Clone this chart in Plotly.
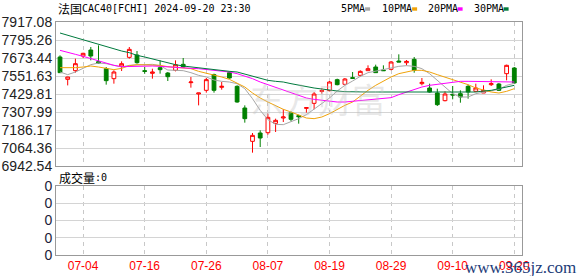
import plotly.graph_objects as go

dates = ["07-01","07-02","07-03","07-04","07-05","07-08","07-09","07-10","07-11","07-12",
         "07-15","07-16","07-17","07-18","07-19","07-22","07-23","07-24","07-25","07-26",
         "07-29","07-30","07-31","08-01","08-02","08-05","08-06","08-07","08-08","08-09",
         "08-12","08-13","08-14","08-15","08-16","08-19","08-20","08-21","08-22","08-23",
         "08-26","08-27","08-28","08-29","08-30","09-02","09-03","09-04","09-05","09-06",
         "09-09","09-10","09-11","09-12","09-13","09-16","09-17","09-18","09-19","09-20"]

opens = [7680.2,7529.0,7587.7,7687.0,7727.6,7648.6,7601.3,7533.6,7619.3,7678.0,
         7693.7,7587.7,7569.7,7608.0,7571.9,7590.0,7630.6,7506.5,7429.8,7454.6,
         7560.6,7474.9,7574.2,7481.7,7335.0,7109.5,7165.8,7168.0,7231.3,7267.4,
         7303.6,7283.2,7332.8,7366.6,7447.8,7452.3,7526.8,7495.2,7540.3,7556.0,
         7587.7,7612.5,7592.3,7596.8,7653.0,7641.5,7664.4,7499.7,7470.4,7436.6,
         7384.7,7427.5,7432.0,7481.7,7447.8,7436.6,7493.0,7497.5,7567.4,7605.8]
highs = [7691.5,7546.0,7668.9,7709.0,7747.9,7759.0,7612.5,7590.0,7650.9,7747.9,
         7720.8,7612.5,7601.0,7657.7,7578.7,7657.7,7673.5,7544.8,7436.6,7538.0,
         7567.4,7511.0,7583.0,7488.5,7353.0,7165.8,7183.9,7296.7,7262.9,7326.0,
         7312.5,7289.9,7337.3,7443.3,7470.4,7517.8,7533.6,7538.0,7578.7,7590.0,
         7623.8,7628.3,7623.8,7653.0,7698.3,7659.9,7680.2,7538.0,7499.7,7465.9,
         7447.8,7483.9,7454.6,7493.0,7499.7,7488.5,7529.0,7504.0,7628.3,7612.5]
lows = [7574.2,7488.0,7574.0,7673.0,7657.7,7637.0,7493.0,7499.7,7585.5,7669.0,
        7635.0,7567.0,7533.6,7567.4,7517.8,7583.0,7608.0,7472.7,7353.0,7438.8,
        7438.8,7459.0,7533.6,7371.0,7235.8,7032.8,7071.0,7154.6,7172.6,7240.3,
        7245.0,7229.0,7303.6,7326.0,7432.0,7447.8,7488.5,7488.5,7535.8,7549.0,
        7587.7,7572.0,7587.7,7590.0,7646.4,7623.8,7574.0,7488.5,7438.8,7348.6,
        7380.0,7393.7,7371.0,7398.2,7443.3,7436.6,7483.9,7450.0,7522.3,7499.7]
closes = [7574.2,7544.8,7635.0,7705.0,7687.0,7639.6,7520.0,7578.7,7635.0,7732.0,
          7641.9,7583.0,7578.7,7594.5,7547.0,7628.0,7612.5,7511.0,7436.6,7526.8,
          7454.6,7481.7,7538.0,7375.7,7262.9,7150.0,7132.0,7271.9,7251.6,7274.1,
          7258.5,7276.4,7337.3,7429.8,7452.3,7511.0,7493.0,7531.3,7535.8,7583.0,
          7601.3,7574.2,7587.7,7646.4,7646.4,7650.5,7590.0,7508.8,7443.3,7357.6,
          7429.8,7423.0,7409.5,7443.3,7470.4,7454.6,7499.7,7454.6,7623.8,7504.3]

ma5 = [7578.7,7560.6,7578.7,7605.8,7628.3,7639.6,7635.1,7623.8,7612.5,7623.8,
       7626.0,7632.8,7630.6,7621.5,7592.2,7590.0,7587.7,7574.2,7556.1,7544.9,
       7524.5,7515.5,7511.0,7499.7,7465.9,7398.2,7319.3,7256.1,7224.5,7222.3,
       7240.3,7262.9,7289.9,7326.1,7364.4,7402.7,7450.1,7488.5,7517.8,7549.4,
       7574.2,7583.2,7596.7,7605.8,7617.0,7621.5,7617.0,7601.3,7567.4,7522.3,
       7477.2,7432.0,7409.5,7409.5,7432.0,7443.3,7450.1,7461.4,7488.5,7502.0]
ma10 = [7608.0,7605.8,7608.0,7612.5,7619.3,7612.5,7601.3,7594.5,7603.5,7621.5,
        7628.3,7628.3,7628.3,7623.8,7614.8,7610.3,7608.0,7601.3,7583.2,7571.9,
        7560.6,7544.9,7529.1,7504.3,7477.2,7436.6,7402.7,7375.7,7348.6,7326.1,
        7308.0,7285.4,7267.4,7262.9,7274.1,7296.7,7326.1,7353.1,7375.7,7416.3,
        7454.6,7488.5,7517.8,7544.9,7567.4,7581.0,7590.0,7590.0,7578.7,7560.6,
        7544.9,7529.1,7511.0,7493.0,7470.4,7454.6,7443.3,7436.6,7447.8,7465.9]
ma20 = [7725.3,7714.0,7698.3,7684.7,7669.0,7650.9,7635.1,7623.8,7614.8,7617.0,
        7619.3,7619.3,7619.3,7617.0,7612.5,7608.0,7605.8,7603.5,7601.3,7596.7,
        7592.2,7587.7,7578.7,7567.4,7551.6,7533.6,7511.0,7493.0,7474.9,7454.6,
        7434.3,7416.3,7402.7,7393.7,7386.9,7380.2,7375.7,7375.7,7380.2,7382.4,
        7389.2,7393.7,7398.2,7405.0,7425.3,7443.3,7459.1,7477.2,7488.5,7495.2,
        7499.7,7511.0,7515.5,7515.5,7515.5,7513.3,7511.0,7511.0,7515.5,7511.0]
ma30 = [7842.6,7826.8,7811.1,7799.8,7781.7,7763.7,7747.9,7736.6,7720.8,7709.5,
        7691.5,7680.2,7666.7,7653.1,7639.6,7628.3,7619.3,7612.5,7608.0,7601.3,
        7596.7,7590.0,7583.2,7578.7,7565.2,7551.6,7538.1,7522.3,7515.5,7511.0,
        7499.7,7488.5,7477.2,7470.4,7463.6,7454.6,7450.1,7445.6,7443.3,7443.3,
        7443.3,7443.3,7443.3,7443.3,7443.3,7443.3,7443.3,7443.3,7443.3,7443.3,
        7443.3,7443.3,7438.8,7438.8,7443.3,7450.1,7454.6,7465.9,7477.2,7488.5]
volume = [0] * 60

price_ticks = [6942.54, 7064.36, 7186.17, 7307.99, 7429.81, 7551.63, 7673.44, 7795.26, 7917.08]
x_ticks = ["07-04", "07-16", "07-26", "08-07", "08-19", "08-29", "09-10", "09-20"]
ma_names = ["5PMA", "10PMA", "20PMA", "30PMA"]
ma_colors = ["#a6a6a6", "#f0a30a", "#ff00ff", "#007a3d"]

W, H = 578, 276
def px(x): return x / W
def py(y): return 1 - y / H

fig = go.Figure()
fig.add_trace(go.Candlestick(
    x=dates, open=opens, high=highs, low=lows, close=closes,
    increasing=dict(line=dict(color="#ff0000", width=1), fillcolor="#ffffff"),
    decreasing=dict(line=dict(color="#008000", width=1), fillcolor="#008000"),
    whiskerwidth=0, showlegend=False, hoverinfo="skip", xaxis="x", yaxis="y"))
for vals, col in zip([ma5, ma10, ma20, ma30], ma_colors):
    fig.add_trace(go.Scatter(x=dates, y=vals, mode="lines", line=dict(color=col, width=1),
                             showlegend=False, hoverinfo="skip", xaxis="x", yaxis="y"))
fig.add_trace(go.Bar(x=dates, y=volume, marker=dict(color="#008000", line=dict(width=0)),
                     showlegend=False, hoverinfo="skip", xaxis="x2", yaxis="y2"))

xdom = [px(56), px(522)]
common_x = dict(type="category", categoryorder="array", categoryarray=dates,
                range=[-0.52, 60.0], tickvals=x_ticks, showgrid=True, gridcolor="#c8c8c8",
                griddash="4px,4px", gridwidth=1, showline=True, linecolor="#999999", linewidth=1,
                mirror=True, zeroline=False, ticks="", automargin=False, fixedrange=True)
fig.update_layout(
    width=W, height=H, margin=dict(l=0, r=0, t=0, b=0),
    paper_bgcolor="white", plot_bgcolor="white", showlegend=False,
    xaxis=dict(domain=xdom, anchor="y", showticklabels=False, rangeslider=dict(visible=False), **common_x),
    yaxis=dict(domain=[py(166), py(22)], range=[price_ticks[0], price_ticks[-1]],
               tickvals=price_ticks, ticktext=[f"{v:.2f}" for v in price_ticks],
               showgrid=True, gridcolor="#d4d4d4", showline=True, linecolor="#999999", mirror=True,
               zeroline=False, ticks="", automargin=False,
               tickfont=dict(family="Liberation Sans, Arial", size=14, color="#222222")),
    xaxis2=dict(domain=xdom, anchor="y2", showticklabels=True,
                tickfont=dict(family="Liberation Sans, Arial", size=12, color="#ff0000"), **common_x),
    yaxis2=dict(domain=[py(255), py(186)], range=[0, 1], tickvals=[0, 0.25, 0.5, 0.75, 1],
                ticktext=["0"] * 5, showgrid=True, gridcolor="#d4d4d4", showline=True,
                linecolor="#999999", mirror=True, zeroline=False, ticks="", automargin=False,
                tickfont=dict(family="Liberation Sans, Arial", size=14, color="#1c1c3a")),
)

annos = []
mono = "DejaVu Sans Mono"
cjk = "Noto Sans CJK SC"
# watermark
annos.append(dict(text="东方财富", x=px(318), y=py(98), xref="paper", yref="paper",
                  showarrow=False, font=dict(family=cjk, size=34, color="rgba(190,190,190,0.35)")))
# title
annos.append(dict(text="法国", x=px(56), y=py(8.5), xref="paper", yref="paper", xanchor="left",
                  yanchor="middle", showarrow=False, font=dict(family=cjk, size=12, color="#000")))
annos.append(dict(text="CAC40[FCHI] 2024-09-20 23:30", x=px(80), y=py(8.5), xref="paper", yref="paper",
                  xanchor="left", yanchor="middle", showarrow=False, font=dict(family=mono, size=10, color="#000")))
# legend
leg_x = [339, 380, 425.5, 471.5]
shapes = []
for name, col, lx in zip(ma_names, ma_colors, leg_x):
    annos.append(dict(text=name, x=px(lx), y=py(8.5), xref="paper", yref="paper", xanchor="left",
                      yanchor="middle", showarrow=False, font=dict(family=mono, size=10, color="#000")))
    sx = lx + len(name) * 6.02 + 2
    shapes.append(dict(type="rect", xref="paper", yref="paper", x0=px(sx), x1=px(sx + 5),
                       y0=py(10.7), y1=py(7.3), fillcolor=col, line=dict(width=0)))
# volume label
annos.append(dict(text="成交量", x=px(57), y=py(177.5), xref="paper", yref="paper", xanchor="left",
                  yanchor="middle", showarrow=False, font=dict(family=cjk, size=12, color="#000")))
annos.append(dict(text=":0", x=px(93), y=py(177.5), xref="paper", yref="paper", xanchor="left",
                  yanchor="middle", showarrow=False, font=dict(family=mono, size=10, color="#000")))
# site watermark
annos.append(dict(text="www.365jz.com", x=px(578), y=py(267), xref="paper", yref="paper", xanchor="right",
                  yanchor="middle", showarrow=False,
                  font=dict(family="Liberation Serif, DejaVu Serif", size=17, color="#1d3c78")))
fig.update_layout(annotations=annos, shapes=shapes)

fig.write_html("out.html")
